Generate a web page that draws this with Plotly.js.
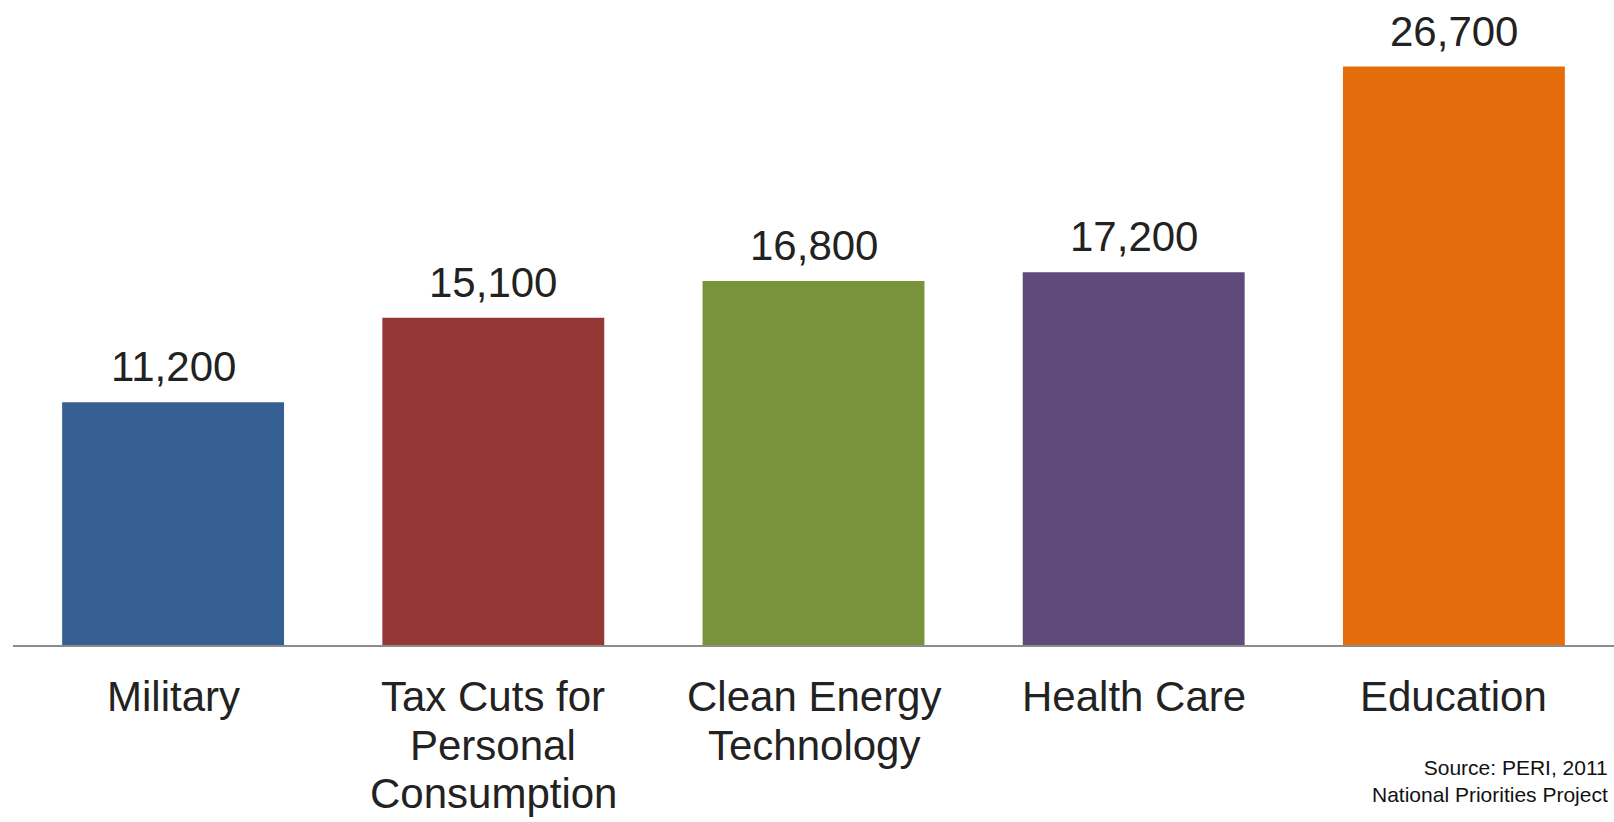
<!DOCTYPE html>
<html>
<head>
<meta charset="utf-8">
<script src="https://cdn.plot.ly/plotly-3.0.1.min.js"></script>
<style>html,body{margin:0;padding:0;background:#fff;}#chart{width:1614px;height:822px;}</style>
</head>
<body>
<div id="chart"></div>
<script>
const categories = ["Military", "Tax Cuts for<br>Personal<br>Consumption", "Clean Energy<br>Technology", "Health Care", "Education"];
const values = [11200, 15100, 16800, 17200, 26700];
const valueLabels = ["11,200", "15,100", "16,800", "17,200", "26,700"];
const barColors = ["#366092", "#953735", "#77933C", "#604A7B", "#E46C0A"];
const sourceText = "Source: PERI, 2011<br>National Priorities Project";

const FONT = "Liberation Sans, Arial, sans-serif";
const TEXT_COLOR = "#222222";

const annotations = [];
categories.forEach((c, i) => {
  annotations.push({
    x: c, y: values[i], xref: "x", yref: "y",
    text: valueLabels[i], showarrow: false,
    xanchor: "center", yanchor: "bottom", yshift: 10,
    font: {family: FONT, size: 42, color: TEXT_COLOR}
  });
  c.split("<br>").forEach((line, j) => {
    annotations.push({
      x: c, y: 0, xref: "x", yref: "y",
      text: line, showarrow: false,
      xanchor: "center", yanchor: "top", yshift: -26 - j * 48.5,
      font: {family: FONT, size: 42, color: TEXT_COLOR}
    });
  });
});
annotations.push({
  x: 0.9975, y: 0, xref: "paper", yref: "paper",
  text: sourceText, showarrow: false, align: "right",
  xanchor: "right", yanchor: "top", yshift: -109,
  font: {family: FONT, size: 21, color: "#111111"}
});

Plotly.newPlot("chart", [{
  type: "bar",
  x: categories,
  y: values,
  marker: {color: barColors},
  hoverinfo: "none"
}], {
  width: 1614, height: 822,
  margin: {l: 13, r: 0, t: 0, b: 177, pad: 0},
  paper_bgcolor: "#ffffff", plot_bgcolor: "#ffffff",
  bargap: 0.307,
  showlegend: false,
  xaxis: {
    type: "category", showticklabels: false, ticks: "",
    showline: true, linecolor: "#8c8c8c", linewidth: 2,
    showgrid: false, zeroline: false, range: [-0.5, 4.5], fixedrange: true
  },
  yaxis: {
    range: [0, 29770], visible: false, showgrid: false, zeroline: false, fixedrange: true
  },
  annotations: annotations
}, {displayModeBar: false, staticPlot: true});
</script>
</body>
</html>
